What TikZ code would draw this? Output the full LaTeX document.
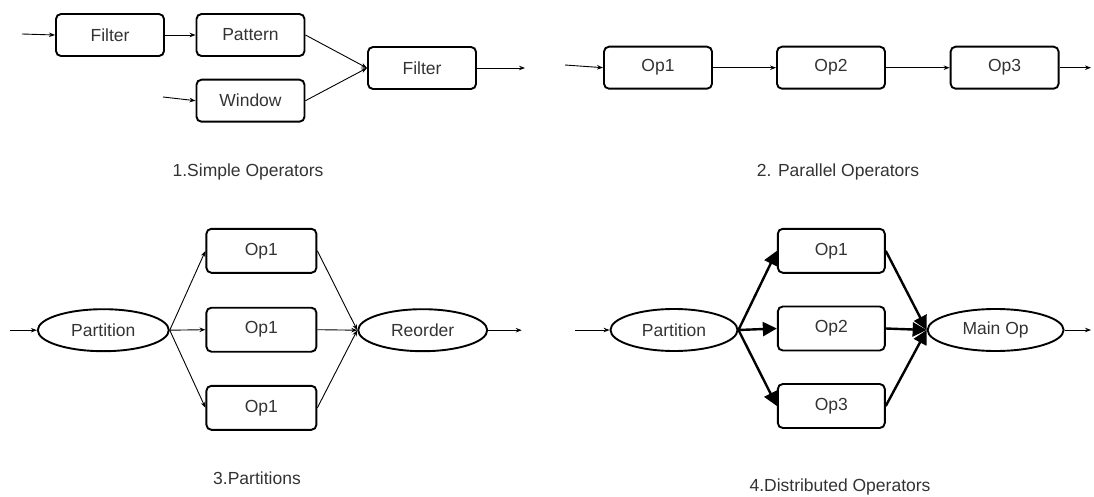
\documentclass[tikz,border=0pt]{standalone}
\usepackage{fontspec}
\setmainfont{Liberation Sans}
\usetikzlibrary{shapes.geometric,arrows.meta}
\begin{document}
\begin{tikzpicture}[x=1pt,y=-1pt,
  txt/.style={font=\fontsize{17.5}{20}\selectfont, text=black!80},
  opbox/.style={txt, draw, line width=1.9pt, rounded corners=5pt, minimum width=108pt, minimum height=42pt, inner sep=0pt},
  opell/.style={txt, draw, ellipse, line width=1.9pt, minimum height=42pt, inner sep=0pt},
  thinarr/.style={line width=0.9pt, -{Stealth[length=6pt,width=4.5pt]}},
  thickarr/.style={line width=2.4pt, -{Triangle[length=14pt,width=14pt]}},
  captxt/.style={font=\fontsize{17.5}{20}\selectfont, text=black!80, inner sep=0pt}]
\useasboundingbox (0,0) rectangle (1094,497);
% Panel 1
\node[opbox] (f1) at (110,35) {Filter};
\node[opbox] (pat) at (250.5,35) {Pattern};
\node[opbox] (win) at (250.5,100.7) {Window};
\node[opbox] (f2) at (422,68) {Filter};
\coordinate (i1) at (22,34);
\coordinate (i2) at (163,97);
\coordinate (o1) at (525,68);
\draw[thinarr] (i1) -- (f1.west);
\draw[thinarr] (f1.east) -- (pat.west);
\draw[thinarr] (i2) -- (win.west);
\draw[thinarr] (pat.east) -- (f2.west);
\draw[thinarr] (win.east) -- (f2.west);
\draw[thinarr] (f2.east) -- (o1);
\node[captxt] (c1) at (248,172) {1.Simple Operators};
% Panel 2
\node[opbox] (p1) at (658,67.7) {Op1};
\node[opbox] (p2) at (831,67.7) {Op2};
\node[opbox] (p3) at (1004.6,67.7) {Op3};
\coordinate (i3) at (565,65);
\coordinate (o2) at (1091,67.7);
\draw[thinarr] (i3) -- (p1.west);
\draw[thinarr] (p1) -- (p2);
\draw[thinarr] (p2) -- (p3);
\draw[thinarr] (p3.east) -- (o2);
\node[captxt] (c2) at (838,172) {2. Parallel Operators};
% Panel 3
\node[opell, minimum width=131pt] (part3) at (103.3,330.2) {Partition};
\node[opbox, minimum width=110pt, minimum height=44pt] (a1) at (261.4,250.8) {Op1};
\node[opbox, minimum width=110pt, minimum height=44pt] (a2) at (261.4,329.7) {Op1};
\node[opbox, minimum width=110pt, minimum height=44pt] (a3) at (261.4,407.8) {Op1};
\node[opell, minimum width=129pt] (reo) at (422.7,330.2) {Reorder};
\coordinate (i4) at (10,330.2);
\coordinate (o3) at (521.7,330.2);
\draw[thinarr] (i4) -- (part3.west);
\draw[thinarr] (part3.east) -- (a1.west);
\draw[thinarr] (part3.east) -- (a2.west);
\draw[thinarr] (part3.east) -- (a3.west);
\draw[thinarr] (a1.east) -- (reo.west);
\draw[thinarr] (a2.east) -- (reo.west);
\draw[thinarr] (a3.east) -- (reo.west);
\draw[thinarr] (reo.east) -- (o3);
\node[captxt] (c3) at (257,478) {3.Partitions};
% Panel 4
\node[opell, minimum width=127pt] (part4) at (674,330) {Partition};
\node[opbox, minimum width=107pt, minimum height=44pt] (b1) at (831.3,250.8) {Op1};
\node[opbox, minimum width=107pt, minimum height=44pt] (b2) at (831.3,328.5) {Op2};
\node[opbox, minimum width=107pt, minimum height=44pt] (b3) at (831.3,406) {Op3};
\node[opell, minimum width=136pt] (mop) at (995.6,330) {Main Op};
\coordinate (i5) at (575,330);
\coordinate (o4) at (1091,330);
\draw[thinarr] (i5) -- (part4.west);
\draw[thickarr] (part4.east) -- (b1.west);
\draw[thickarr] (part4.east) -- (b2.west);
\draw[thickarr] (part4.east) -- (b3.west);
\draw[thickarr] (b1.east) -- (mop.west);
\draw[thickarr] (b2.east) -- (mop.west);
\draw[thickarr] (b3.east) -- (mop.west);
\draw[thinarr] (mop.east) -- (o4);
\node[captxt] (c4) at (840,487) {4.Distributed Operators};
\end{tikzpicture}
\end{document}
